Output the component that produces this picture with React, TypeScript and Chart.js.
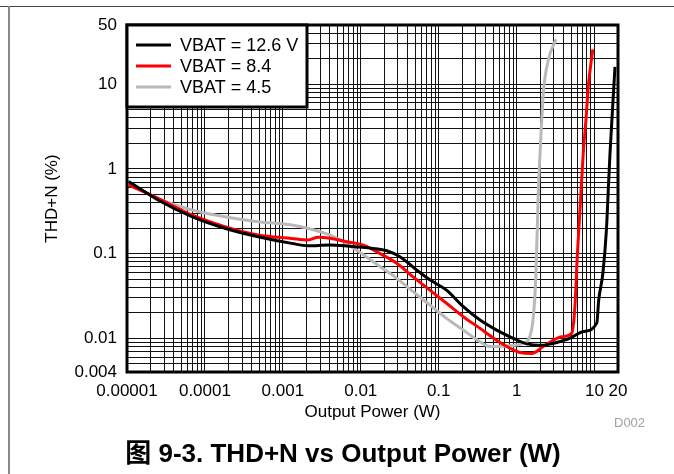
import React, { useEffect, useRef } from "react";
import { Chart, registerables } from "chart.js";

Chart.register(...registerables);

// ---------------- data ----------------
const SERIES_LABELS = ["VBAT = 12.6 V", "VBAT = 8.4", "VBAT = 4.5"];
const SERIES_COLORS = ["#000000", "#ff0000", "#b9b9b9"];

const P_126 = [1.05e-5, 2.5e-5, 6.8e-5, 1.8e-4, 4.8e-4, 1.3e-3, 2.1e-3, 4.0e-3, 6.6e-3, 0.0145, 0.0215, 0.0318, 0.052, 0.077, 0.126, 0.207, 0.339, 0.554, 0.906, 1.35, 2.2, 2.9, 4.8, 7.2, 10.7, 11.3, 12.8, 14.2, 15.0, 15.8, 17.0, 18.3];
const THD_126 = [0.71, 0.43, 0.273, 0.199, 0.158, 0.132, 0.124, 0.126, 0.123, 0.115, 0.108, 0.092, 0.064, 0.049, 0.037, 0.0236, 0.0164, 0.0125, 0.01, 0.0086, 0.0083, 0.0087, 0.01, 0.012, 0.0152, 0.028, 0.059, 0.19, 0.56, 1.54, 5.0, 16];

const P_84 = [1.05e-5, 2.5e-5, 6.8e-5, 1.8e-4, 4.8e-4, 1.3e-3, 2.1e-3, 2.84e-3, 4.2e-3, 6.6e-3, 0.0108, 0.0177, 0.029, 0.047, 0.077, 0.126, 0.207, 0.339, 0.554, 0.906, 1.1, 1.56, 2.2, 3.8, 5.1, 5.6, 6.0, 6.5, 7.16, 7.76, 8.3, 9.5];
const THD_84 = [0.645, 0.45, 0.286, 0.208, 0.166, 0.151, 0.145, 0.156, 0.151, 0.138, 0.126, 0.1, 0.077, 0.053, 0.037, 0.0259, 0.018, 0.0131, 0.0095, 0.0073, 0.0068, 0.0066, 0.008, 0.0104, 0.0115, 0.0236, 0.092, 0.327, 1.53, 3.8, 9.3, 25.8];

const P_45 = [1.05e-5, 2.5e-5, 6.8e-5, 1.8e-4, 4.8e-4, 1.3e-3, 2.1e-3, 4.0e-3, 6.6e-3, 0.0108, 0.0177, 0.029, 0.047, 0.077, 0.126, 0.207, 0.339, 0.455, 0.73, 1.22, 1.45, 1.64, 1.77, 1.9, 2.0, 2.2, 2.55, 3.2];
const THD_45 = [0.675, 0.45, 0.327, 0.273, 0.238, 0.218, 0.199, 0.166, 0.13, 0.097, 0.07, 0.051, 0.0355, 0.0247, 0.0172, 0.0125, 0.0091, 0.008, 0.0081, 0.0087, 0.01, 0.018, 0.058, 0.56, 1.53, 7.8, 19.3, 33.9];

const X_TICK_VALUES = [1e-5, 1e-4, 1e-3, 0.01, 0.1, 1, 10, 20];
const X_TICK_LABELS = ["0.00001", "0.0001", "0.001", "0.01", "0.1", "1", "10", "20"];
const Y_TICK_VALUES = [0.004, 0.01, 0.1, 1, 10, 50];
const Y_TICK_LABELS = ["0.004", "0.01", "0.1", "1", "10", "50"];

const X_MIN = 1e-5, X_MAX = 20, Y_MIN = 0.004, Y_MAX = 50;

const FONT = '"Liberation Sans", Arial, Helvetica, sans-serif';

function logGrid(min: number, max: number): number[] {
  const out: number[] = [];
  const e0 = Math.floor(Math.log10(min));
  const e1 = Math.ceil(Math.log10(max));
  for (let e = e0; e <= e1; e++) {
    for (let m = 1; m <= 9; m++) {
      const v = parseFloat((m * Math.pow(10, e)).toPrecision(6));
      if (v >= min * 0.9999 && v <= max * 1.0001) out.push(v);
    }
  }
  if (!out.some((v) => Math.abs(v - max) / max < 1e-4)) out.push(max);
  return out;
}

function labelFor(v: number, vals: number[], labels: string[]): string {
  const i = vals.findIndex((t) => Math.abs(t - v) / t < 1e-4);
  return i >= 0 ? labels[i] : "";
}

const pts = (xs: number[], ys: number[]) => xs.map((x, i) => ({ x, y: ys[i] }));

const framePlugin = {
  id: "frameAndLegend",
  afterDatasetsDraw(chart: any) {
    const { ctx, chartArea } = chart;
    const { left, top, right, bottom } = chartArea;
    ctx.save();
    ctx.strokeStyle = "#000";
    ctx.lineWidth = 3;
    ctx.strokeRect(left, top, right - left, bottom - top);

    // legend box inside plot
    const bx = left, by = top, bw = 180, bh = 82;
    ctx.fillStyle = "#fff";
    ctx.fillRect(bx, by, bw, bh);
    ctx.strokeRect(bx, by, bw, bh);
    ctx.font = `18px ${FONT}`;
    ctx.textBaseline = "middle";
    ctx.textAlign = "left";
    chart.data.datasets.forEach((ds: any, i: number) => {
      const yy = by + 20 + i * 21;
      ctx.strokeStyle = ds.borderColor;
      ctx.lineWidth = 3;
      ctx.beginPath();
      ctx.moveTo(bx + 9, yy);
      ctx.lineTo(bx + 44, yy);
      ctx.stroke();
      ctx.fillStyle = "#000";
      ctx.fillText(ds.label, bx + 53, yy + 1);
    });
    ctx.restore();
  },
};

export default function App() {
  const ref = useRef<HTMLCanvasElement | null>(null);

  useEffect(() => {
    if (!ref.current) return;
    const xGrid = logGrid(X_MIN, X_MAX);
    const yGrid = logGrid(Y_MIN, Y_MAX);
    const series = [pts(P_126, THD_126), pts(P_84, THD_84), pts(P_45, THD_45)];
    const chart = new Chart(ref.current, {
      type: "line",
      data: {
        datasets: series.map((d, i) => ({
          label: SERIES_LABELS[i],
          data: d,
          borderColor: SERIES_COLORS[i],
          backgroundColor: SERIES_COLORS[i],
          borderWidth: 3,
          pointRadius: 0,
          cubicInterpolationMode: "monotone" as const,
          fill: false,
        })),
      },
      options: {
        animation: false,
        responsive: false,
        layout: { padding: { left: 0, right: 56, top: 25, bottom: 0 } },
        plugins: { legend: { display: false }, tooltip: { enabled: false } },
        scales: {
          x: {
            type: "logarithmic",
            min: X_MIN,
            max: X_MAX,
            afterBuildTicks: (s: any) => {
              s.ticks = xGrid.map((v) => ({ value: v }));
            },
            afterFit: (s: any) => {
              s.height = 102;
            },
            ticks: {
              autoSkip: false,
              maxRotation: 0,
              minRotation: 0,
              padding: 9,
              color: "#000",
              font: { family: FONT, size: 17 },
              callback: (v: any) => labelFor(Number(v), X_TICK_VALUES, X_TICK_LABELS),
            },
            grid: { color: "#111", lineWidth: 1, drawTicks: false },
            border: { display: false },
            title: {
              display: true,
              text: "Output Power (W)",
              color: "#000",
              font: { family: FONT, size: 17 },
              padding: { top: 0, bottom: 51 },
            },
          },
          y: {
            type: "logarithmic",
            min: Y_MIN,
            max: Y_MAX,
            afterBuildTicks: (s: any) => {
              s.ticks = yGrid.map((v) => ({ value: v }));
            },
            afterFit: (s: any) => {
              s.width = 127;
            },
            ticks: {
              autoSkip: false,
              padding: 10,
              color: "#000",
              font: { family: FONT, size: 17 },
              callback: (v: any) => labelFor(Number(v), Y_TICK_VALUES, Y_TICK_LABELS),
            },
            grid: { color: "#111", lineWidth: 1, drawTicks: false },
            border: { display: false },
            title: {
              display: true,
              text: "THD+N (%)",
              color: "#000",
              font: { family: FONT, size: 17 },
              padding: { top: 42, bottom: 0 },
            },
          },
        },
      },
      plugins: [framePlugin],
    });
    return () => chart.destroy();
  }, []);

  return (
    <div style={{ position: "absolute", left: 0, top: 0, width: 674, height: 474, background: "#fff", overflow: "hidden" }}>
      <div style={{ position: "absolute", left: 0, top: 6, width: 674, height: 1, background: "#444" }} />
      <div style={{ position: "absolute", left: 8, top: 6, width: 2, height: 468, background: "#888" }} />
      <canvas ref={ref} width={674} height={474} style={{ position: "absolute", left: 0, top: 0, width: 674, height: 474 }} />
      <div style={{ position: "absolute", left: 614, top: 415, fontFamily: FONT, fontSize: 13, color: "#a0a0a0", lineHeight: "16px" }}>D002</div>
      <div
        style={{
          position: "absolute",
          left: 0,
          top: 437,
          width: 686,
          textAlign: "center",
          fontFamily: '"Liberation Sans", Arial, "Noto Sans CJK SC", sans-serif',
          fontWeight: "bold",
          fontSize: 26,
          lineHeight: "32px",
          color: "#000",
        }}
      >
        图 9-3. THD+N vs Output Power (W)
      </div>
    </div>
  );
}
